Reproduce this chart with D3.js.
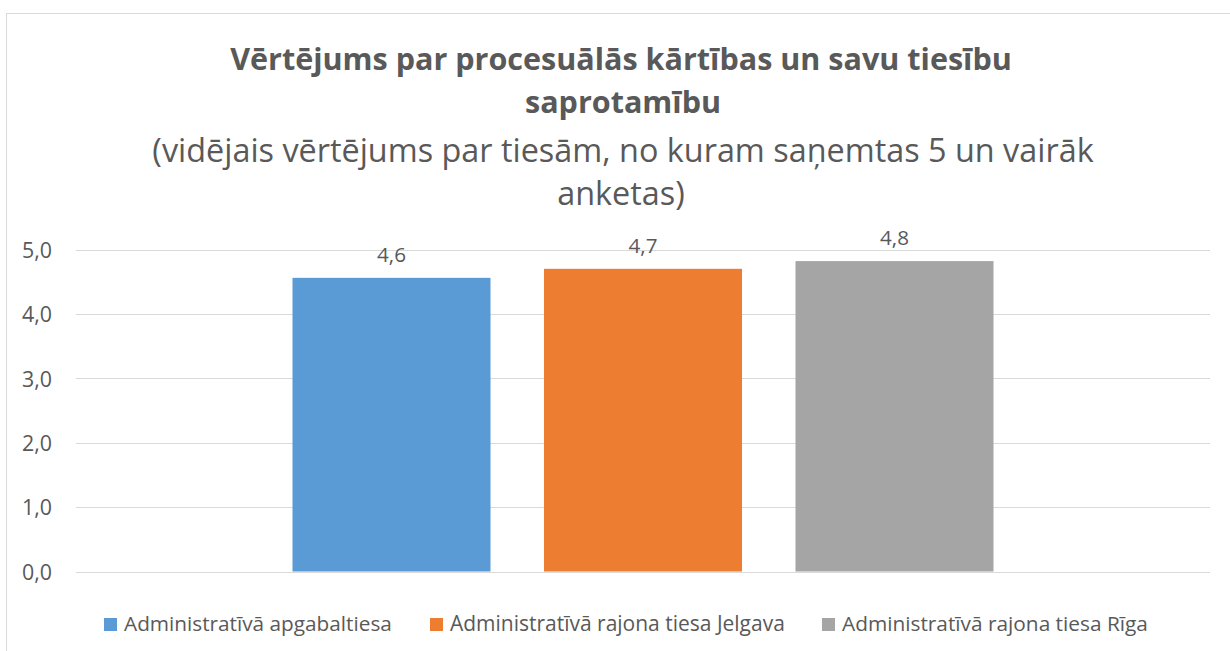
<!DOCTYPE html>
<html><head><meta charset="utf-8">
<script src="https://cdn.jsdelivr.net/npm/d3@7"></script>
<style>html,body{margin:0;padding:0;background:#fff;}svg{display:block;}</style>
</head><body>
<script>
const series = ["Administratīvā apgabaltiesa", "Administratīvā rajona tiesa Jelgava", "Administratīvā rajona tiesa Rīga"];
const values = [4.56, 4.70, 4.82];
const colors = ["#5b9bd5", "#ed7d31", "#a5a5a5"];
const yTicks = [0, 1, 2, 3, 4, 5];
const titleLines = ["Vērtējums par procesuālās kārtības un savu tiesību", "saprotamību"];
const subtitleLines = ["(vidējais vērtējums par tiesām, no kuram saņemtas 5 un vairāk", "anketas)"];

const W = 1230, H = 651;
const font = "'Open Sans', 'DejaVu Sans', sans-serif";
const txt = "#595959";
const svg = d3.select("body").append("svg").attr("width", W).attr("height", H);

svg.append("rect").attr("x", 6.5).attr("y", 13.5).attr("width", W + 10).attr("height", H + 10)
  .attr("fill", "#fff").attr("stroke", "#d9d9d9").attr("stroke-width", 1);

const plotL = 76, plotR = 1210, plotT = 249.5, plotB = 571.5;
const y = d3.scaleLinear().domain([0, 5]).range([plotB, plotT]);
const x = d3.scaleBand().domain(series).range([plotL + 216.5, plotR - 216.5]).paddingInner(0.2127).paddingOuter(0);
const fmt = v => d3.format(".1f")(v).replace(".", ",");

function fit(sel, target) {
  const w = sel.node().getComputedTextLength();
  const fs = parseFloat(sel.attr("font-size"));
  sel.attr("font-size", fs * target / w);
}

// gridlines
svg.append("g").selectAll("line").data(yTicks).join("line")
  .attr("x1", plotL).attr("x2", plotR)
  .attr("y1", d => Math.round(y(d)) + 0.5).attr("y2", d => Math.round(y(d)) + 0.5)
  .attr("stroke", "#d9d9d9").attr("stroke-width", 1);

// y axis labels
const yAxis = d3.axisLeft(y).tickValues(yTicks).tickFormat(fmt).tickSize(0).tickPadding(0);
const ga = svg.append("g").attr("transform", `translate(52,0)`).call(yAxis);
ga.select(".domain").remove();
ga.selectAll("text").attr("font-family", font).attr("font-size", 19).attr("fill", txt).attr("dy", "0.36em")
  .each(function() { fit(d3.select(this), 30); });

// bars
svg.append("g").selectAll("rect").data(values).join("rect")
  .attr("x", (d, i) => x(series[i])).attr("width", x.bandwidth())
  .attr("y", d => y(d)).attr("height", d => plotB - y(d))
  .attr("fill", (d, i) => colors[i]);

// value labels
svg.append("g").selectAll("text").data(values).join("text")
  .attr("x", (d, i) => x(series[i]) + x.bandwidth() / 2)
  .attr("y", d => y(d) - 16)
  .attr("text-anchor", "middle").attr("font-family", font).attr("font-size", 19).attr("fill", txt)
  .text(d => fmt(d))
  .each(function() { fit(d3.select(this), 29); });

// titles
const cx = 621;
const t1 = svg.append("text").attr("x", cx).attr("y", 70).attr("text-anchor", "middle")
  .attr("font-family", font).attr("font-weight", "bold").attr("font-size", 28).attr("fill", txt).text(titleLines[0]);
fit(t1, 782);
const fsT = parseFloat(t1.attr("font-size"));
svg.append("text").attr("x", cx + 2).attr("y", 113).attr("text-anchor", "middle")
  .attr("font-family", font).attr("font-weight", "bold").attr("font-size", fsT).attr("fill", txt).text(titleLines[1]);
const s1 = svg.append("text").attr("x", 623).attr("y", 162).attr("text-anchor", "middle")
  .attr("font-family", font).attr("font-size", 28).attr("fill", txt).text(subtitleLines[0]);
fit(s1, 942);
const fsS = parseFloat(s1.attr("font-size"));
svg.append("text").attr("x", 621).attr("y", 205).attr("text-anchor", "middle")
  .attr("font-family", font).attr("font-size", fsS).attr("fill", txt).text(subtitleLines[1]);

// legend
const legX = [104, 430, 822];
const legTextW = [268, 335, 306];
const lg = svg.append("g").selectAll("g").data(series).join("g")
  .attr("transform", (d, i) => `translate(${legX[i]},618)`);
lg.append("rect").attr("width", 13).attr("height", 13).attr("fill", (d, i) => colors[i]);
lg.append("text").attr("x", 20).attr("y", 13).attr("font-family", font).attr("font-size", 17)
  .attr("fill", txt).text(d => d)
  .each(function(d, i) { fit(d3.select(this), legTextW[i]); });
</script>
</body></html>
